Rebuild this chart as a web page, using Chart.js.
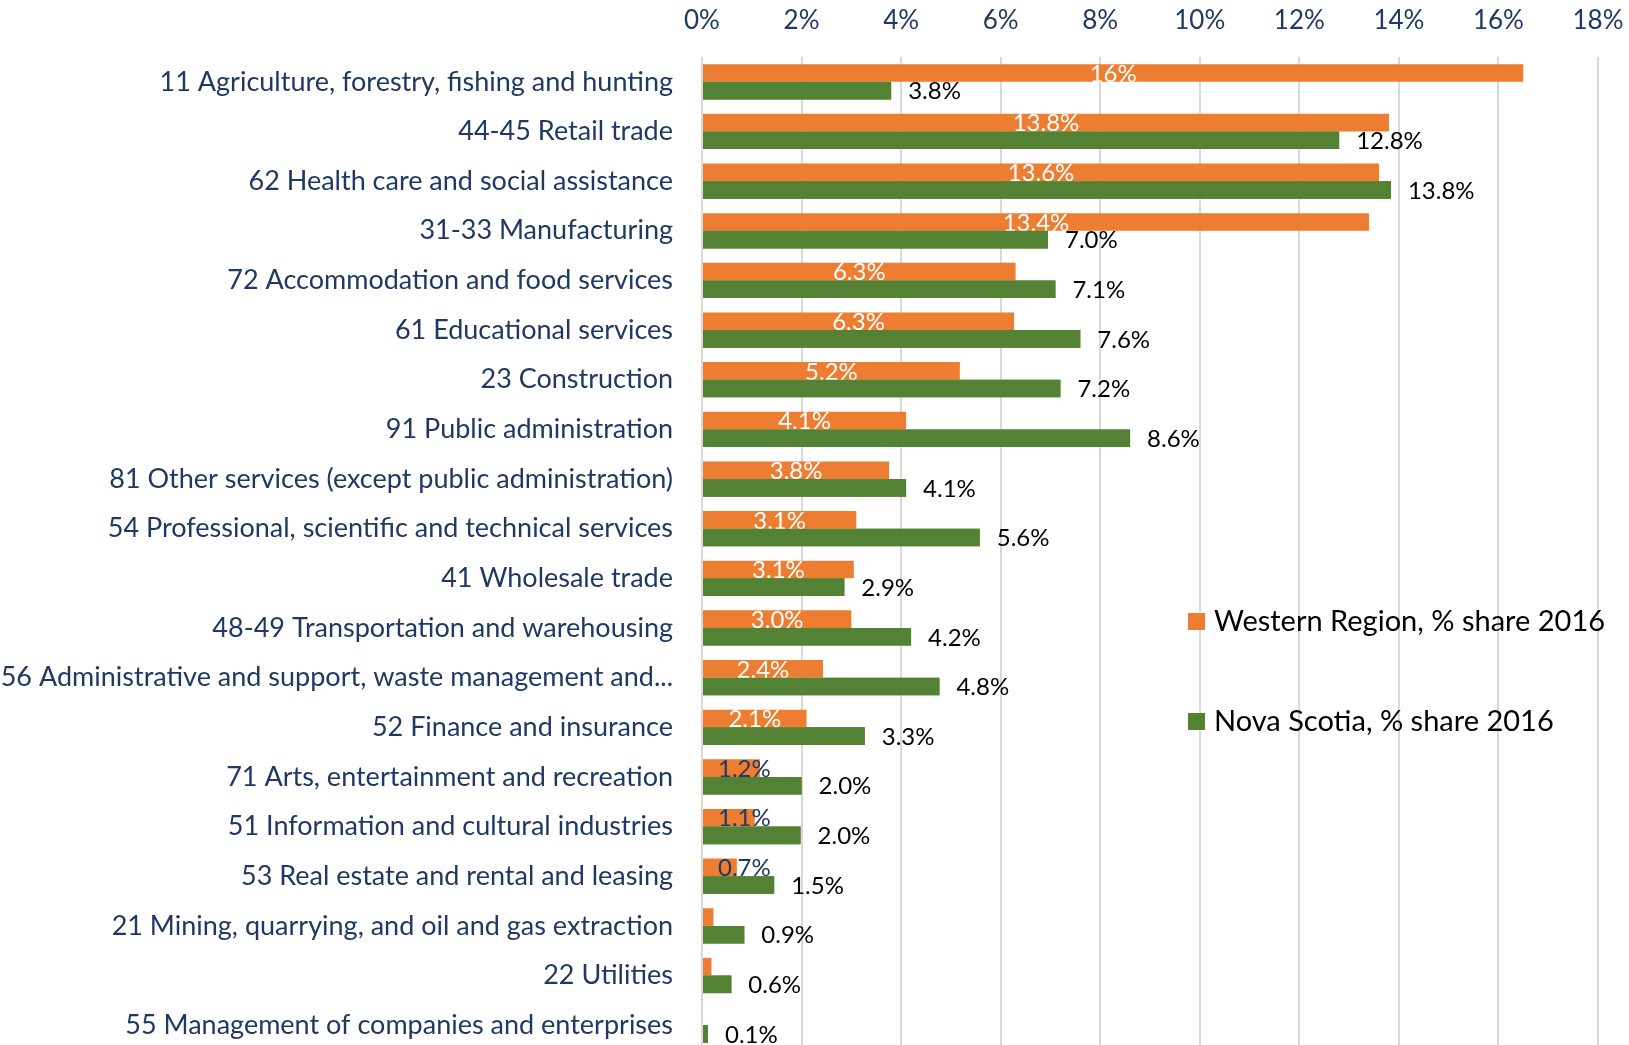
<!DOCTYPE html>
<html>
<head>
<meta charset="utf-8">
<script src="https://cdn.jsdelivr.net/npm/chart.js@4.4.0/dist/chart.umd.min.js"></script>
<style>
    body { margin: 0; overflow: hidden; background: #fff; }
</style>
</head>
<body>
<canvas id="barChart" width="1629" height="1050"></canvas>
<script>
// DATA
const industries = [
    "11 Agriculture, forestry, fishing and hunting",
    "44-45 Retail trade",
    "62 Health care and social assistance",
    "31-33 Manufacturing",
    "72 Accommodation and food services",
    "61 Educational services",
    "23 Construction",
    "91 Public administration",
    "81 Other services (except public administration)",
    "54 Professional, scientific and technical services",
    "41 Wholesale trade",
    "48-49 Transportation and warehousing",
    "56 Administrative and support, waste management and...",
    "52 Finance and insurance",
    "71 Arts, entertainment and recreation",
    "51 Information and cultural industries",
    "53 Real estate and rental and leasing",
    "21 Mining, quarrying, and oil and gas extraction",
    "22 Utilities",
    "55 Management of companies and enterprises"
];

const westernShare = [16.5, 13.8, 13.6, 13.4, 6.3, 6.27, 5.18, 4.1, 3.76, 3.1, 3.05, 3.0, 2.43, 2.1, 1.16, 1.06, 0.7, 0.23, 0.19, 0];
const novaScotiaShare = [3.8, 12.8, 13.84, 6.95, 7.1, 7.6, 7.2, 8.6, 4.1, 5.58, 2.86, 4.2, 4.77, 3.27, 2.0, 1.98, 1.45, 0.85, 0.59, 0.12];

const westernLabels = ["16%", "13.8%", "13.6%", "13.4%", "6.3%", "6.3%", "5.2%", "4.1%", "3.8%", "3.1%",
    "3.1%", "3.0%", "2.4%", "2.1%", "1.2%", "1.1%", "0.7%", "", "", ""];
const novaScotiaLabels = ["3.8%", "12.8%", "13.8%", "7.0%", "7.1%", "7.6%", "7.2%", "8.6%", "4.1%", "5.6%",
    "2.9%", "4.2%", "4.8%", "3.3%", "2.0%", "2.0%", "1.5%", "0.9%", "0.6%", "0.1%"];

const xMax = 18;
const xStep = 2;

const navy = "#1f3864";
const fontFamily = "Lato, 'Noto Sans', sans-serif";

// LABELS + LEGEND
const barLabels = {
    id: "barLabels",
    afterDatasetsDraw(chart) {
        let ctx = chart.ctx;
        let orange = chart.getDatasetMeta(0);
        let green = chart.getDatasetMeta(1);
        let x0 = chart.scales.x.getPixelForValue(0);

        ctx.save();
        ctx.font = "24px " + fontFamily;
        ctx.textBaseline = "middle";
        ctx.textAlign = "center";

        orange.data.forEach((bar, i) => {
            let txt = westernLabels[i];
            if (!txt) return;
            let w = ctx.measureText(txt).width;
            let cx = Math.max((bar.base + bar.x) / 2, x0 + 16 + w / 2);
            ctx.fillStyle = westernShare[i] < 1.5 ? navy : "#ffffff";
            ctx.fillText(txt, cx, bar.y + 1);
        });

        // green bars sit on top of the orange labels
        green.data.forEach(bar => bar.draw(ctx));

        ctx.textAlign = "left";
        ctx.fillStyle = "#000000";
        green.data.forEach((bar, i) => {
            ctx.fillText(novaScotiaLabels[i], bar.x + 17, bar.y + 1);
        });
        ctx.restore();
    },
    afterDraw(chart) {
        let ctx = chart.ctx;
        let rows = [621, 721];
        ctx.save();
        ctx.font = "29px " + fontFamily;
        ctx.textBaseline = "middle";
        ctx.textAlign = "left";
        chart.data.datasets.forEach((ds, i) => {
            ctx.fillStyle = ds.backgroundColor;
            ctx.fillRect(1188, rows[i] - 8, 17, 17);
            ctx.fillStyle = "#000000";
            ctx.fillText(ds.label, 1214, rows[i] + 1);
        });
        ctx.restore();
    }
};

new Chart(document.getElementById("barChart"), {
    type: "bar",
    data: {
        labels: industries,
        datasets: [
            {
                label: "Western Region, % share 2016",
                data: westernShare,
                backgroundColor: "#ed7d31",
                categoryPercentage: 0.71,
                barPercentage: 1.0
            },
            {
                label: "Nova Scotia, % share 2016",
                data: novaScotiaShare,
                backgroundColor: "#548235",
                categoryPercentage: 0.71,
                barPercentage: 1.0
            }
        ]
    },
    options: {
        indexAxis: "y",
        responsive: false,
        animation: false,
        layout: { padding: 0 },
        plugins: {
            legend: { display: false },
            tooltip: { enabled: false }
        },
        scales: {
            x: {
                position: "top",
                min: 0,
                max: xMax,
                ticks: {
                    stepSize: xStep,
                    color: navy,
                    padding: 21,
                    font: { family: fontFamily, size: 26 },
                    callback: v => v + "%"
                },
                grid: { color: "#d9d9d9", lineWidth: 2, drawTicks: false },
                border: { display: false },
                afterFit(scale) {
                    scale.height = 57;
                    scale.paddingRight = 31;
                }
            },
            y: {
                ticks: {
                    color: navy,
                    padding: 21,
                    autoSkip: false,
                    font: { family: fontFamily, size: 27 }
                },
                grid: { display: false },
                border: { display: false },
                afterFit(scale) {
                    scale.width = 702;
                    scale.paddingTop = 0;
                    scale.paddingBottom = 0;
                }
            }
        }
    },
    plugins: [barLabels]
});
</script>
</body>
</html>
